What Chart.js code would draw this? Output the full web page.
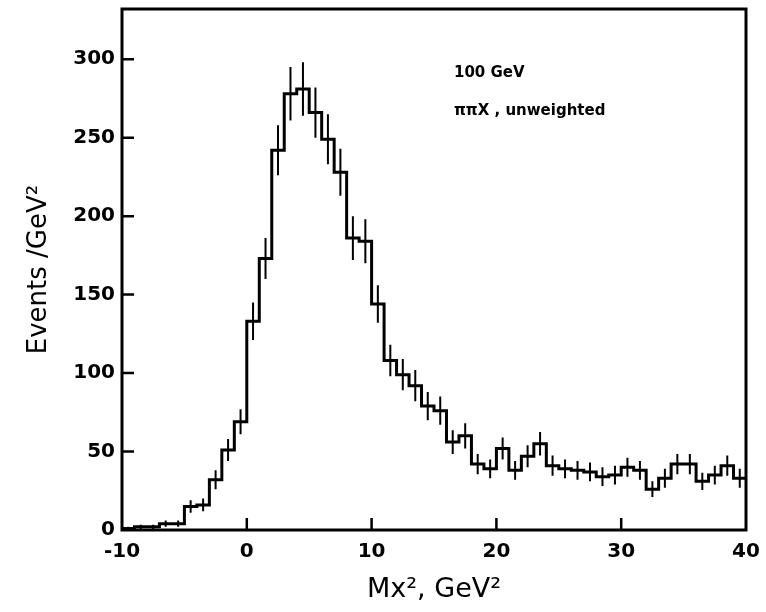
<!DOCTYPE html>
<html>
<head>
<meta charset="utf-8">
<script src="https://cdn.jsdelivr.net/npm/chart.js@4/dist/chart.umd.min.js"></script>
<style>
  html, body { margin: 0; padding: 0; background: #fff; }
  #wrap { width: 766px; height: 612px; }
</style>
</head>
<body>
<div id="wrap"><canvas id="c" width="766" height="612"></canvas></div>
<script>
// ---- data (bins of 1 GeV^2 from -10 to 40) ----
const binEdgesStart = [-10,-9,-8,-7,-6,-5,-4,-3,-2,-1,0,1,2,3,4,5,6,7,8,9,10,11,12,13,14,15,16,17,18,19,20,21,22,23,24,25,26,27,28,29,30,31,32,33,34,35,36,37,38,39];
const binWidth = 1;
const counts = [1,2,2,4,4,15,16,32,51,69,133,173,242,278,281,266,249,228,186,184,144,108,99,92,79,76,56,60,42,39,52,38,47,55,41,39,38,37,34,35,40,38,26,33,42,42,31,35,41,33];
const errors = [1,1.4,1.4,2,2,4,4,6,7,8,12,13,16,17,17,16,16,15,14,14,12,10,10,10,9,9,7.5,8,6.5,6,7,6,7,7.5,6.5,6,6,6,6,6,6,6,5,6,6.5,6.5,5.5,6,6.5,6];
const xTicks = [-10,0,10,20,30,40];
const yTicks = [0,50,100,150,200,250,300];
const xRange = [-10,40];
const yRange = [0,332];
const annotLines = ["100 GeV", "\u03C0\u03C0X , unweighted"];
const annotPos = [[16.6, 291], [16.6, 267]];

// build step points from arrays
const stepPoints = binEdgesStart.map((e, i) => ({x: e, y: counts[i]}));
stepPoints.push({x: binEdgesStart[binEdgesStart.length-1] + binWidth, y: counts[counts.length-1]});

const FONT = "'DejaVu Sans', sans-serif";

const decorPlugin = {
  id: 'decor',
  afterDatasetsDraw(chart) {
    const ctx = chart.ctx;
    const xs = chart.scales.x, ys = chart.scales.y;
    ctx.save();
    // error bars
    ctx.strokeStyle = '#000';
    ctx.lineWidth = 2;
    ctx.beginPath();
    counts.forEach((v, i) => {
      const cx = xs.getPixelForValue(binEdgesStart[i] + binWidth/2);
      ctx.moveTo(cx, ys.getPixelForValue(v - errors[i]));
      ctx.lineTo(cx, ys.getPixelForValue(v + errors[i]));
    });
    ctx.stroke();
    // frame
    const a = chart.chartArea;
    ctx.lineWidth = 3;
    ctx.strokeRect(a.left, a.top, a.right - a.left, a.bottom - a.top);
    // inward ticks
    ctx.lineWidth = 2.5;
    ctx.beginPath();
    yTicks.forEach(v => {
      if (v === yRange[0]) return;
      const py = ys.getPixelForValue(v);
      ctx.moveTo(a.left, py); ctx.lineTo(a.left + 12, py);
    });
    xTicks.forEach(v => {
      if (v === xRange[0] || v === xRange[1]) return;
      const px = xs.getPixelForValue(v);
      ctx.moveTo(px, a.bottom); ctx.lineTo(px, a.bottom - 12);
    });
    ctx.stroke();
    // annotation
    ctx.fillStyle = '#000';
    ctx.font = "bold 15px " + FONT;
    ctx.textAlign = 'left';
    ctx.textBaseline = 'middle';
    annotLines.forEach((t, i) => {
      ctx.fillText(t, xs.getPixelForValue(annotPos[i][0]), ys.getPixelForValue(annotPos[i][1]));
    });
    ctx.restore();
  }
};

new Chart(document.getElementById('c'), {
  type: 'line',
  data: {
    datasets: [{
      data: stepPoints,
      stepped: 'before',
      borderColor: '#000',
      borderWidth: 3,
      pointRadius: 0,
      fill: false
    }]
  },
  options: {
    responsive: false,
    animation: false,
    devicePixelRatio: 1,
    layout: { padding: { top: 9, right: 20, left: 0, bottom: 0 } },
    plugins: { legend: { display: false }, tooltip: { enabled: false } },
    scales: {
      x: {
        type: 'linear',
        min: xRange[0], max: xRange[1],
        afterBuildTicks: s => { s.ticks = xTicks.map(v => ({value: v})); },
        afterFit: s => { s.height = 82; s.paddingLeft = 0; s.paddingRight = 0; },
        grid: { display: false, drawTicks: false },
        border: { display: false },
        ticks: { color: '#000', font: { family: FONT, size: 20, weight: 'bold' }, padding: 10, maxRotation: 0 },
        title: { display: true, text: 'Mx\u00B2, GeV\u00B2', color: '#000', font: { family: FONT, size: 27 }, padding: { top: 0, bottom: 6 } }
      },
      y: {
        type: 'linear',
        min: yRange[0], max: yRange[1],
        afterBuildTicks: s => { s.ticks = yTicks.map(v => ({value: v})); },
        afterFit: s => { s.width = 122; s.paddingTop = 0; s.paddingBottom = 0; },
        grid: { display: false, drawTicks: false },
        border: { display: false },
        ticks: { color: '#000', font: { family: FONT, size: 20, weight: 'bold' }, padding: 7 },
        title: { display: true, text: 'Events /GeV\u00B2', color: '#000', font: { family: FONT, size: 26 }, padding: { top: 24, bottom: 0 } }
      }
    }
  },
  plugins: [decorPlugin]
});
</script>
</body>
</html>
